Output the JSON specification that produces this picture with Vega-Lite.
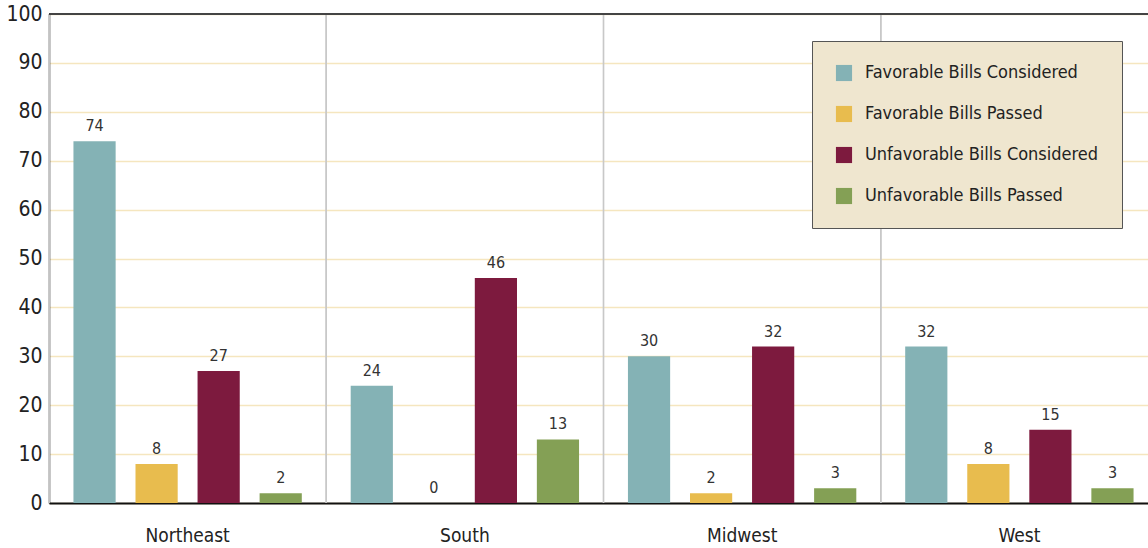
{
  "$schema": "https://vega.github.io/schema/vega-lite/v6.json",
  "width": 1109,
  "height": 489,
  "autosize": {"type": "none"},
  "padding": {"left": 49, "top": 14, "right": 0, "bottom": 45},
  "background": "#ffffff",
  "config": {
    "font": "Liberation Sans Narrow, DejaVu Sans Condensed, sans-serif",
    "view": {"stroke": null}
  },
  "data": {
    "values": [
      {"region": "Northeast", "series": "Favorable Bills Considered", "value": 74},
      {"region": "Northeast", "series": "Favorable Bills Passed", "value": 8},
      {"region": "Northeast", "series": "Unfavorable Bills Considered", "value": 27},
      {"region": "Northeast", "series": "Unfavorable Bills Passed", "value": 2},
      {"region": "South", "series": "Favorable Bills Considered", "value": 24},
      {"region": "South", "series": "Favorable Bills Passed", "value": 0},
      {"region": "South", "series": "Unfavorable Bills Considered", "value": 46},
      {"region": "South", "series": "Unfavorable Bills Passed", "value": 13},
      {"region": "Midwest", "series": "Favorable Bills Considered", "value": 30},
      {"region": "Midwest", "series": "Favorable Bills Passed", "value": 2},
      {"region": "Midwest", "series": "Unfavorable Bills Considered", "value": 32},
      {"region": "Midwest", "series": "Unfavorable Bills Passed", "value": 3},
      {"region": "West", "series": "Favorable Bills Considered", "value": 32},
      {"region": "West", "series": "Favorable Bills Passed", "value": 8},
      {"region": "West", "series": "Unfavorable Bills Considered", "value": 15},
      {"region": "West", "series": "Unfavorable Bills Passed", "value": 3}
    ]
  },
  "layer": [
    {
      "mark": {"type": "bar"},
      "encoding": {
        "x": {
          "field": "region",
          "type": "nominal",
          "sort": ["Northeast", "South", "Midwest", "West"],
          "scale": {"paddingInner": 0, "paddingOuter": 0},
          "axis": {
            "title": null,
            "labelAngle": 0,
            "labelFontSize": 19,
            "labelColor": "#222222",
            "labelPadding": 23,
            "ticks": false,
            "domainColor": "#111111",
            "domainWidth": 2,
            "grid": false
          }
        },
        "xOffset": {
          "field": "series",
          "type": "nominal",
          "scale": {"paddingInner": 0.32, "paddingOuter": 0.394}
        },
        "y": {
          "field": "value",
          "type": "quantitative",
          "scale": {"domain": [0, 100], "nice": false},
          "axis": {
            "title": null,
            "values": [0, 10, 20, 30, 40, 50, 60, 70, 80, 90, 100],
            "labelFontSize": 21,
            "labelColor": "#222222",
            "labelPadding": 7,
            "ticks": false,
            "domainColor": "#222222",
            "domainWidth": 1.5,
            "gridColor": "#f5e6bf",
            "gridWidth": 1.5
          }
        },
        "color": {
          "field": "series",
          "type": "nominal",
          "scale": {
            "domain": ["Favorable Bills Considered", "Favorable Bills Passed", "Unfavorable Bills Considered", "Unfavorable Bills Passed"],
            "range": ["#84b2b5", "#e8bc4e", "#7d1a3e", "#84a055"]
          },
          "legend": {
            "title": null,
            "orient": "none",
            "legendX": 763,
            "legendY": 27,
            "symbolType": "square",
            "symbolSize": 260,
            "symbolStrokeWidth": 0,
            "labelFontSize": 18,
            "labelColor": "#222222",
            "labelOffset": 12,
            "rowPadding": 23,
            "padding": 23,
            "fillColor": "#efe6cf",
            "strokeColor": "#555555",
            "labelLimit": 400
          }
        }
      }
    },
    {
      "mark": {"type": "text", "baseline": "bottom", "dy": -7, "fontSize": 16, "color": "#333333"},
      "encoding": {
        "x": {"field": "region", "type": "nominal", "sort": ["Northeast", "South", "Midwest", "West"]},
        "xOffset": {
          "field": "series",
          "type": "nominal",
          "scale": {"paddingInner": 0.32, "paddingOuter": 0.394}
        },
        "y": {"field": "value", "type": "quantitative"},
        "text": {"field": "value", "type": "quantitative"}
      }
    },
    {
      "mark": {"type": "rule", "color": "#c8c8c8", "strokeWidth": 1.2},
      "encoding": {
        "x": {"field": "region", "type": "nominal", "bandPosition": 0, "sort": ["Northeast", "South", "Midwest", "West"]}
      }
    },
    {
      "mark": {"type": "rule", "color": "#444444", "strokeWidth": 1.5},
      "encoding": {"y": {"datum": 100}}
    }
  ]
}
